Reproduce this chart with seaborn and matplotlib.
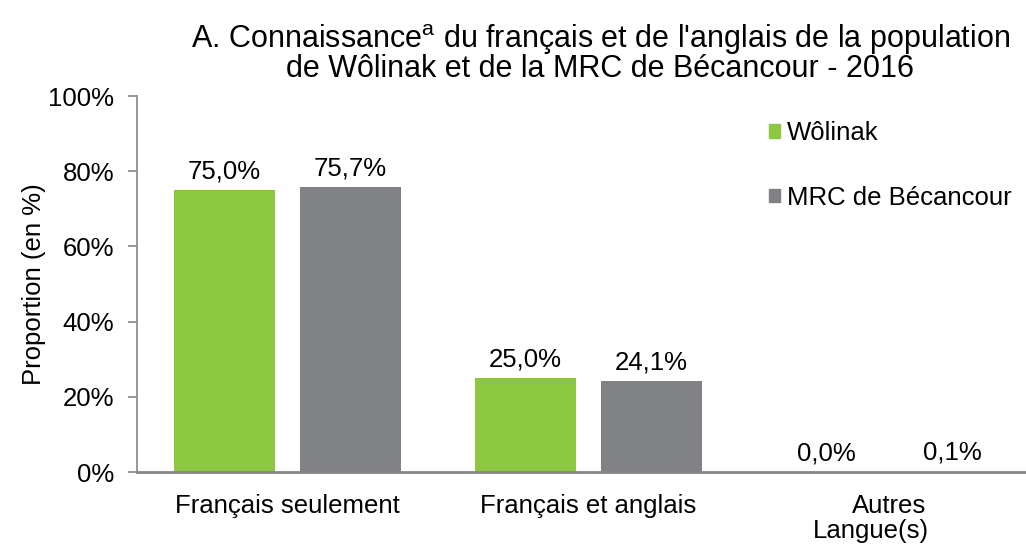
import pandas as pd
import seaborn as sns
import matplotlib.pyplot as plt
from matplotlib.patches import Patch

# Données
langues = ['Français seulement', 'Français et anglais', 'Autres']
zones = ['Wôlinak', 'MRC de Bécancour']
wolinak = [75.0, 25.0, 0.0]
becancour = [75.7, 24.1, 0.1]
couleurs = ['#8DC63F', '#808285']

df = pd.DataFrame({
    'Langue': langues * 2,
    'Zone': [zones[0]] * 3 + [zones[1]] * 3,
    'Proportion': wolinak + becancour,
})

sns.set_style('white')
plt.rcParams['font.family'] = ['Liberation Sans', 'DejaVu Sans']
plt.rcParams['text.color'] = 'black'
plt.rcParams['axes.labelcolor'] = 'black'
plt.rcParams['xtick.color'] = 'black'
plt.rcParams['ytick.color'] = 'black'

fig = plt.figure(figsize=(10.26, 5.44), dpi=100)
ax = fig.add_axes([137 / 1026, 72 / 544, 888 / 1026, 376 / 544])

sns.barplot(data=df, x='Langue', y='Proportion', hue='Zone', palette=couleurs,
            width=0.837, gap=0.2, saturation=1, linewidth=0, legend=False, ax=ax)

for cont in ax.containers:
    ax.bar_label(cont, labels=[f'{v:.1f}%'.replace('.', ',') for v in cont.datavalues],
                 padding=5, fontsize=18.5)

ax.set_ylim(0, 100)
ax.set_xlim(-0.5, 2.45)
ax.set_yticks(range(0, 101, 20))
ax.set_yticklabels([f'{t}%' for t in range(0, 101, 20)], fontsize=18.5)
ax.tick_params(axis='x', labelsize=18.5, length=0, pad=16)
ax.tick_params(axis='y', length=6.5, width=1.2, color='#868686', left=True, pad=10)

for s in ['top', 'right']:
    ax.spines[s].set_visible(False)
ax.spines['left'].set_color('#868686')
ax.spines['left'].set_linewidth(1.2)
ax.spines['bottom'].set_color('#868686')
ax.spines['bottom'].set_linewidth(2)

ax.set_ylabel('Proportion (en %)', fontsize=18.5)
ax.yaxis.set_label_coords(-0.103, 0.5)
ax.set_xlabel('Langue(s)', fontsize=18.5)
ax.xaxis.set_label_coords(0.826, -0.126)

fig.suptitle("A. Connaissance$^\\mathregular{a}$ du français et de l'anglais de la population\n"
             "de Wôlinak et de la MRC de Bécancour - 2016",
             x=0.585, y=0.96, fontsize=22, linespacing=0.9)

handles = [Patch(color=c, label=z) for c, z in zip(couleurs, zones)]
ax.legend(handles=handles, loc='upper left', bbox_to_anchor=(0.7, 0.96),
          frameon=False, fontsize=18.5, handlelength=0.45, handleheight=0.45,
          handletextpad=0.25, labelspacing=1.57, borderaxespad=0)

plt.savefig('out.png', dpi=100)
